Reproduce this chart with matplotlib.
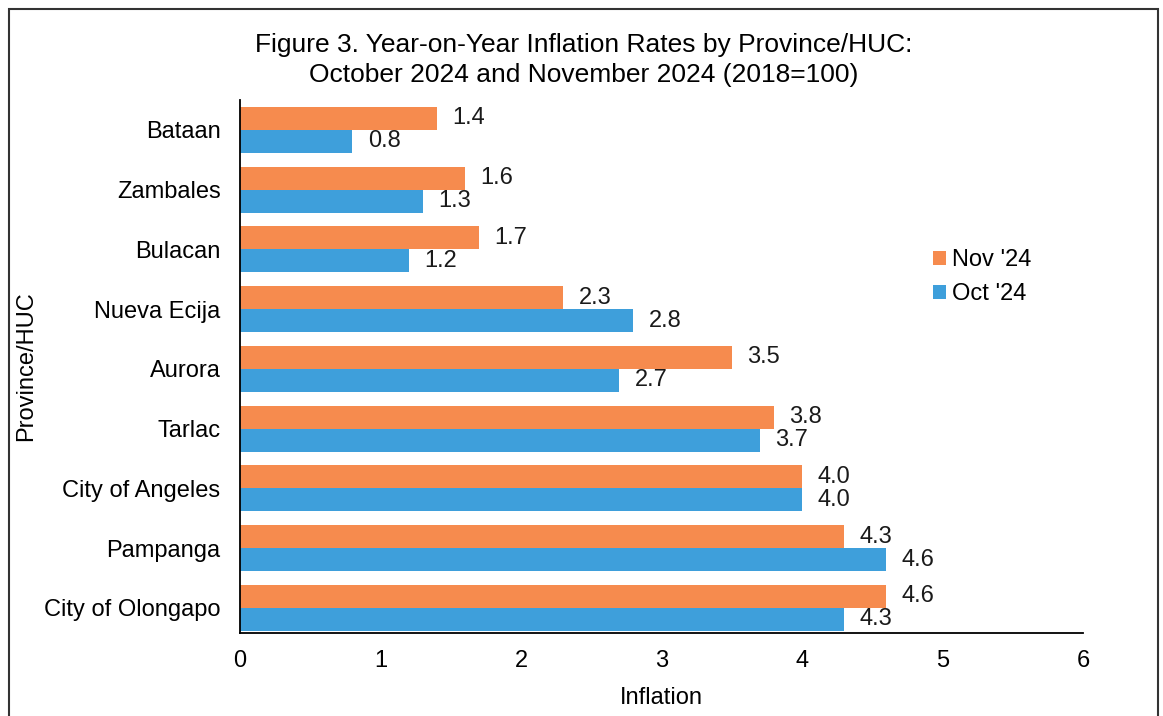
import numpy as np
import matplotlib.pyplot as plt
from matplotlib.patches import Rectangle

plt.rcParams['font.family'] = ['Liberation Sans', 'DejaVu Sans']

provinces = ['Bataan', 'Zambales', 'Bulacan', 'Nueva Ecija', 'Aurora', 'Tarlac',
             'City of Angeles', 'Pampanga', 'City of Olongapo']
nov_24 = [1.4, 1.6, 1.7, 2.3, 3.5, 3.8, 4.0, 4.3, 4.6]
oct_24 = [0.8, 1.3, 1.2, 2.8, 2.7, 3.7, 4.0, 4.6, 4.3]

ORANGE = '#F68B4E'
BLUE = '#3E9FDB'
FS = 17

fig = plt.figure(figsize=(11.63, 7.16), dpi=100)
ax = fig.add_axes([0.2064, 0.1159, 0.7248, 0.7444])

y = np.arange(len(provinces))
h = 0.385
bars_nov = ax.barh(y - h / 2, nov_24, height=h, color=ORANGE, label="Nov '24")
bars_oct = ax.barh(y + h / 2, oct_24, height=h, color=BLUE, label="Oct '24")

for bars, vals in [(bars_nov, nov_24), (bars_oct, oct_24)]:
    for b, v in zip(bars, vals):
        ax.text(v + 0.11, b.get_y() + b.get_height() / 2, '{:.1f}'.format(v),
                va='center', ha='left', fontsize=FS, color='#1a1a1a')

ax.set_yticks(y)
ax.set_yticklabels(provinces, fontsize=FS)
ax.set_ylim(len(provinces) - 0.58, -0.5)
ax.set_xlim(0, 6)
ax.set_xticks(range(0, 7))
ax.tick_params(axis='x', labelsize=FS, length=0, pad=12)
ax.tick_params(axis='y', length=0, pad=14)
for s in ['top', 'right']:
    ax.spines[s].set_visible(False)
ax.spines['left'].set_linewidth(1.3)
ax.spines['bottom'].set_linewidth(1.3)

ax.set_xlabel('Inflation', fontsize=FS, labelpad=11)
ax.set_ylabel('Province/HUC', fontsize=FS, labelpad=5)

fig.text(584 / 1163, 1 - 45 / 716, 'Figure 3. Year-on-Year Inflation Rates by Province/HUC:',
         ha='center', va='center', fontsize=19)
fig.text(584 / 1163, 1 - 75 / 716, 'October 2024 and November 2024 (2018=100)',
         ha='center', va='center', fontsize=19)

ax.legend(loc='upper left', bbox_to_anchor=(0.822, 0.72), frameon=False, fontsize=FS,
          borderaxespad=0, borderpad=0,
          handlelength=0.55, handleheight=0.55, handletextpad=0.25, labelspacing=0.5)

fig.patches.append(Rectangle((9 / 1163, -0.05), (1158 - 9) / 1163, 1.05 - 9 / 716,
                             transform=fig.transFigure, fill=False,
                             edgecolor='#333333', linewidth=1.5))

fig.savefig('out.png', dpi=100)
